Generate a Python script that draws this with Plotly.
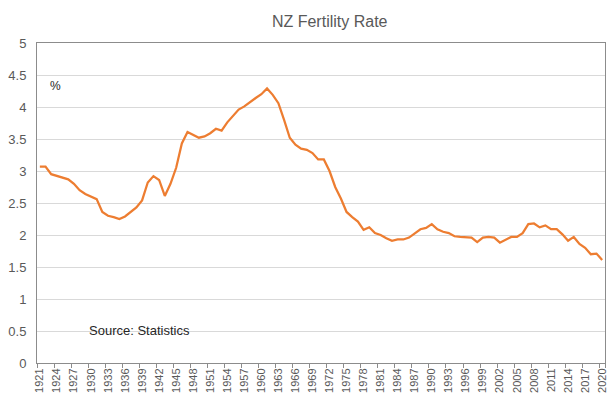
import plotly.graph_objects as go

years = [str(y) for y in range(1921, 2021)]

fertility = [
    3.07, 3.07, 2.95, 2.92, 2.90, 2.87, 2.80, 2.70, 2.64, 2.60,   # 1921-1930
    2.56, 2.36, 2.30, 2.28, 2.25, 2.29, 2.36, 2.43, 2.54, 2.82,   # 1931-1940
    2.92, 2.86, 2.61, 2.80, 3.05, 3.43, 3.61, 3.56, 3.52, 3.54,   # 1941-1950
    3.59, 3.66, 3.63, 3.76, 3.86, 3.96, 4.01, 4.08, 4.14, 4.20,   # 1951-1960
    4.29, 4.19, 4.06, 3.80, 3.52, 3.41, 3.35, 3.33, 3.28, 3.18,   # 1961-1970
    3.18, 3.00, 2.75, 2.57, 2.36, 2.28, 2.21, 2.08, 2.12, 2.03,   # 1971-1980
    2.00, 1.95, 1.91, 1.93, 1.93, 1.96, 2.03, 2.09, 2.11, 2.17,   # 1981-1990
    2.09, 2.05, 2.03, 1.98, 1.97, 1.96, 1.96, 1.89, 1.96, 1.97,   # 1991-2000
    1.96, 1.88, 1.92, 1.97, 1.97, 2.03, 2.17, 2.18, 2.12, 2.15,   # 2001-2010
    2.09, 2.09, 2.01, 1.91, 1.97, 1.86, 1.80, 1.70, 1.71, 1.61,   # 2011-2020
]

tick_labels = years[::3]
y_ticks = [0, 0.5, 1, 1.5, 2, 2.5, 3, 3.5, 4, 4.5, 5]

title_text = "NZ Fertility Rate"
unit_text = "%"
source_text = "Source: Statistics"

FONT = "Liberation Sans, Arial, sans-serif"

fig = go.Figure()
fig.add_trace(go.Scatter(
    x=years, y=fertility, mode="lines",
    line=dict(color="#ED7D31", width=2.25),
    hoverinfo="x+y", showlegend=False,
))

fig.update_layout(
    width=607, height=401,
    margin=dict(l=37, r=2, t=43, b=38, autoexpand=False),
    paper_bgcolor="white", plot_bgcolor="white",
    font=dict(family=FONT, color="#595959"),
    title=dict(text=title_text, x=329.7 / 607, xref="container", xanchor="center",
               y=1 - 21.7 / 401, yref="container", yanchor="middle",
               font=dict(size=16, color="#595959", family=FONT)),
    xaxis=dict(
        type="category", range=[-0.5, 99.5],
        tickmode="array", tickvals=tick_labels, ticktext=tick_labels,
        tickson="boundaries", ticks="outside", ticklen=4, tickcolor="#8c8c8c", tickwidth=1,
        tickangle=-90, tickfont=dict(size=11, color="#595959"),
        showgrid=False, showline=True, linecolor="#8c8c8c", linewidth=1, mirror=True,
        zeroline=False, fixedrange=True, automargin=False,
    ),
    yaxis=dict(
        range=[0, 5], tickmode="array", tickvals=y_ticks,
        ticks="", tickfont=dict(size=13, color="#595959"), ticklabelstandoff=7,
        showgrid=True, gridcolor="#d9d9d9", gridwidth=1,
        showline=True, linecolor="#8c8c8c", linewidth=1, mirror=True,
        zeroline=False, fixedrange=True, automargin=False,
    ),
    annotations=[
        dict(text=unit_text, xref="paper", yref="paper", x=(55 - 37) / 568, y=(363 - 86) / 320,
             xanchor="center", yanchor="middle", showarrow=False,
             font=dict(size=12, color="#262626", family=FONT)),
        dict(text=source_text, xref="paper", yref="paper", x=(87 - 37) / 568, y=(363 - 330) / 320,
             xanchor="left", yanchor="middle", showarrow=False,
             font=dict(size=13, color="#262626", family=FONT)),
    ],
)

fig.write_html(
    "out.html",
    config={"displayModeBar": False},
    post_script="document.body.style.margin='0px';document.body.style.overflow='hidden';",
)
